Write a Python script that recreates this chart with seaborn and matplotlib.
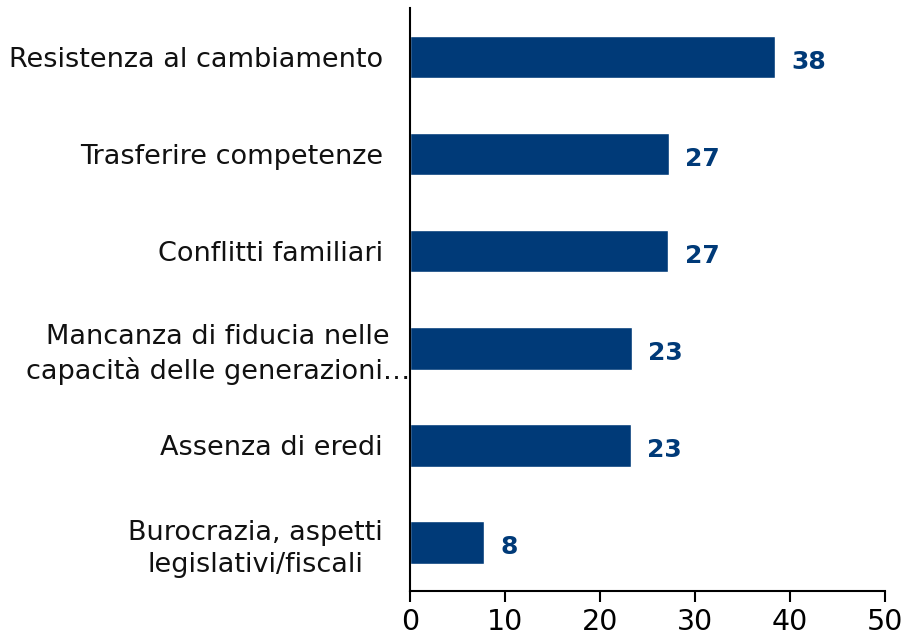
import matplotlib
matplotlib.use("Agg")
import matplotlib.pyplot as plt
import matplotlib.transforms as mtransforms
import seaborn as sns
import pandas as pd

categories = [
    "Resistenza al cambiamento",
    "Trasferire competenze",
    "Conflitti familiari",
    "Mancanza di fiducia nelle\ncapacità delle generazioni…",
    "Assenza di eredi",
    "Burocrazia, aspetti\nlegislativi/fiscali",
]
values = [38.4, 27.3, 27.2, 23.4, 23.3, 7.8]
labels = [38, 27, 27, 23, 23, 8]

sns.set_theme(style="white")
plt.rcParams["font.family"] = ["DejaVu Sans"]

df = pd.DataFrame({"cat": categories, "val": values})
bar_color = "#003A78"

fig = plt.figure(figsize=(9.1, 6.39), dpi=100)
ax = fig.add_axes([0.4505, 0.075, 0.522, 0.912])
sns.barplot(data=df, x="val", y="cat", color=bar_color, saturation=1,
            width=0.44, ax=ax)

for i, (v, lab) in enumerate(zip(values, labels)):
    ax.text(v + 1.7, i + 0.05, str(lab), va="center", ha="left",
            fontsize=18, fontweight="bold", color=bar_color)

ax.set_xlim(0, 50)
ax.set_xticks([0, 10, 20, 30, 40, 50])
ax.set_xlabel("")
ax.set_ylabel("")
ax.tick_params(axis="x", bottom=True, length=8, width=1.5, color="black",
               labelsize=20.5, pad=4, labelcolor="black")
ax.tick_params(axis="y", left=False, length=0, labelsize=19.5, pad=19.5,
               labelcolor="#111111")
for lab in ax.get_yticklabels():
    lab.set_multialignment("center")
    lab.set_linespacing(1.3)
# the long wrapped label runs past the pad up to the axis line
long_lab = ax.get_yticklabels()[3]
long_lab.set_transform(long_lab.get_transform() +
                       mtransforms.ScaledTranslation(0.27, 0, fig.dpi_scale_trans))
for s in ["top", "right"]:
    ax.spines[s].set_visible(False)
for s in ["left", "bottom"]:
    ax.spines[s].set_color("black")
    ax.spines[s].set_linewidth(1.5)

fig.savefig("out.png", dpi=100)
